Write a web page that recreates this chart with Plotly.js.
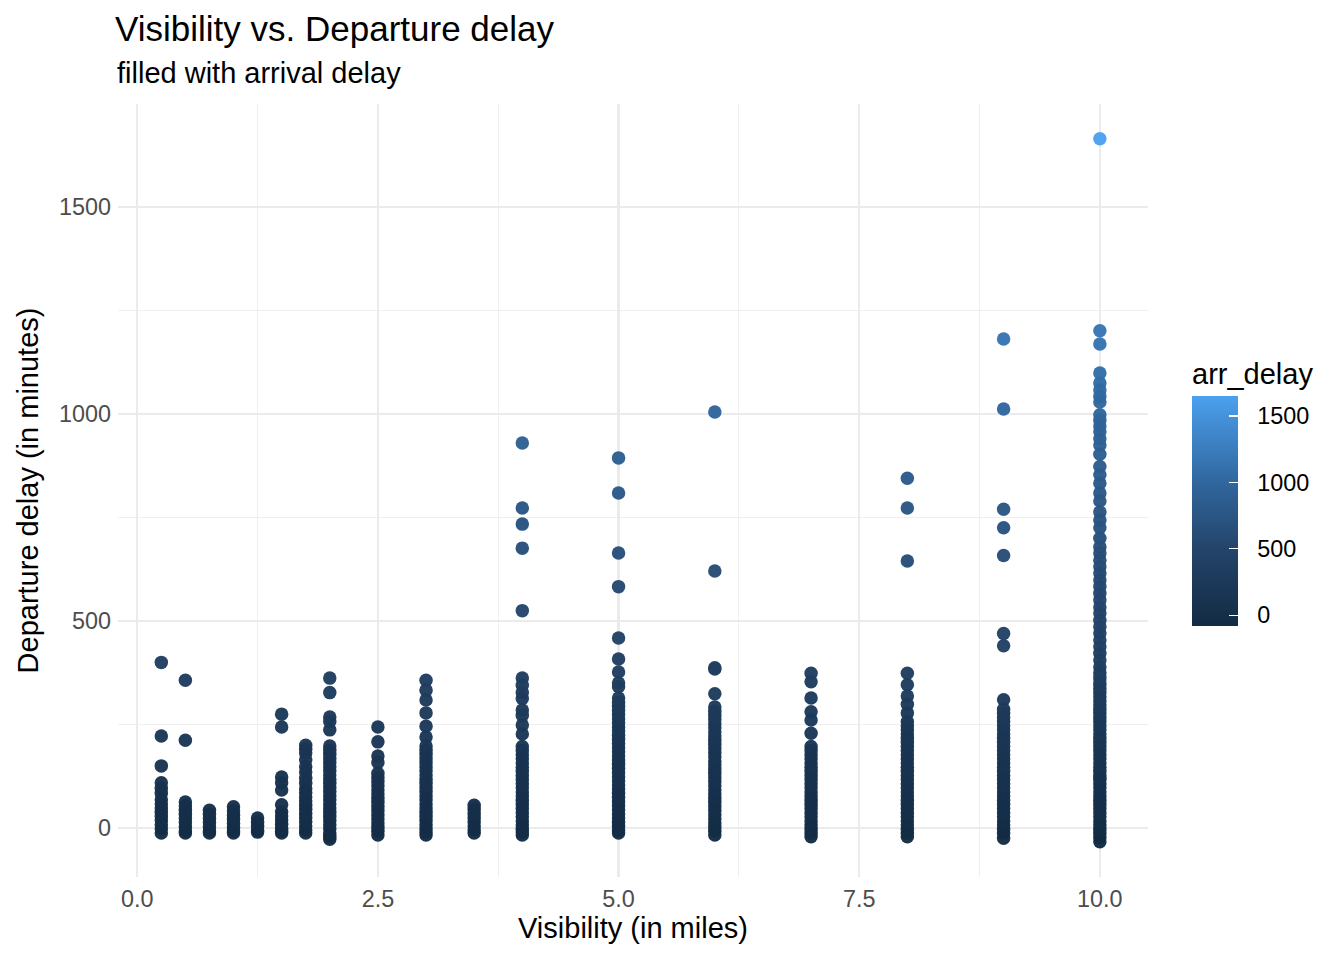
<!DOCTYPE html>
<html>
<head>
<meta charset="utf-8">
<script src="https://cdn.plot.ly/plotly-3.0.1.min.js"></script>
<style>html,body{margin:0;padding:0;background:#fff;}#chart{width:1344px;height:960px;}</style>
</head>
<body>
<div id="chart"></div>
<script>
// Visibility (miles) categories
const visibility = [0.25, 0.5, 0.75, 1, 1.25, 1.5, 1.75, 2, 2.5, 3, 3.5, 4, 5, 6, 7, 8, 9, 10];

// Departure delay (minutes) per visibility column, and matching arrival delay
const dep_v025 = [400, 222, 150, 109, 96, 84, 68, 58, 48, 38, 28, 18, 8, -2, -12];
const arr_v025 = [385, 210, 138, 95, 85, 70, 55, 45, 35, 25, 15, 5, -5, -15, -30];
const dep_v050 = [357, 212, 63, 53, 43, 33, 23, 13, 3, -7, -12];
const arr_v050 = [345, 200, 50, 40, 30, 20, 10, 0, -10, -20, -30];
const dep_v075 = [43, 33, 23, 13, 3, -7, -12];
const arr_v075 = [30, 20, 10, 0, -10, -20, -30];
const dep_v100 = [51, 41, 31, 21, 11, 1, -7, -12];
const arr_v100 = [40, 30, 20, 10, 0, -10, -20, -30];
const dep_v125 = [24, 14, 4, -6, -10];
const arr_v125 = [12, 2, -8, -18, -28];
const dep_v150 = [275, 244, 123, 109, 92, 56, 39, 29, 19, 9, -1, -8, -12];
const arr_v150 = [262, 230, 110, 96, 80, 44, 26, 16, 6, -4, -14, -22, -30];
const dep_v175 = [200, 190, 181, 165, 148, 135, 120, 108, 95, 85, 75, 65, 55, 45, 35, 25, 15, 5, -5, -12];
const arr_v175 = [188, 178, 168, 152, 136, 122, 108, 96, 82, 72, 62, 52, 42, 32, 22, 12, 2, -8, -18, -30];
const dep_v200 = [362, 327, 268, 257, 237, 198, 188, 178, 168, 158, 148, 138, 128, 118, 108, 98, 88, 78, 68, 58, 48, 38, 28, 18, 8, -2, -12, -20, -27];
const arr_v200 = [350, 315, 255, 245, 225, 185, 175, 165, 155, 145, 135, 125, 115, 105, 95, 85, 75, 65, 55, 45, 35, 25, 15, 5, -5, -15, -25, -35, -45];
const dep_v250 = [244, 208, 174, 158, 132, 122, 112, 102, 92, 82, 72, 62, 52, 42, 32, 22, 12, 2, -8, -17];
const arr_v250 = [232, 195, 162, 146, 120, 110, 100, 90, 80, 70, 60, 50, 40, 30, 20, 10, 0, -10, -20, -35];
const dep_v300 = [357, 333, 309, 278, 246, 220, 198, 188, 178, 168, 158, 148, 138, 128, 118, 108, 98, 88, 78, 68, 58, 48, 38, 28, 18, 8, -2, -10, -17];
const arr_v300 = [345, 320, 296, 265, 234, 208, 186, 175, 165, 155, 145, 135, 125, 115, 105, 95, 85, 75, 65, 55, 45, 35, 25, 15, 5, -5, -15, -25, -35];
const dep_v350 = [55, 45, 35, 25, 15, 5, -5, -12];
const arr_v350 = [42, 32, 22, 12, 2, -8, -18, -30];
const dep_v400 = [930, 773, 734, 676, 525, 362, 345, 327, 313, 285, 272, 249, 227, 197, 187, 177, 167, 157, 147, 137, 127, 117, 107, 97, 87, 77, 67, 57, 47, 37, 27, 17, 7, -3, -10, -17];
const arr_v400 = [915, 760, 720, 662, 512, 350, 332, 315, 300, 272, 260, 236, 215, 185, 175, 165, 155, 145, 135, 125, 115, 105, 95, 85, 75, 65, 55, 45, 35, 25, 15, 5, -5, -15, -25, -40];
const dep_v500 = [894, 809, 664, 583, 459, 408, 377, 350, 341, 314, 304, 294, 284, 274, 264, 254, 244, 234, 224, 214, 204, 194, 184, 174, 164, 154, 144, 134, 124, 114, 104, 94, 84, 74, 64, 54, 44, 34, 24, 14, 4, -6, -12];
const arr_v500 = [880, 795, 650, 570, 445, 395, 364, 337, 328, 301, 291, 281, 271, 261, 251, 241, 231, 221, 211, 201, 191, 181, 171, 161, 151, 141, 131, 121, 111, 101, 91, 81, 71, 61, 51, 41, 31, 21, 11, 1, -9, -20, -40];
const dep_v600 = [1005, 621, 387, 384, 324, 292, 282, 272, 262, 252, 242, 232, 222, 212, 202, 192, 182, 172, 162, 152, 142, 132, 122, 112, 102, 92, 82, 72, 62, 52, 42, 32, 22, 12, 2, -8, -17];
const arr_v600 = [990, 608, 374, 370, 310, 280, 270, 260, 250, 240, 230, 220, 210, 200, 190, 180, 170, 160, 150, 140, 130, 120, 110, 100, 90, 80, 70, 60, 50, 40, 30, 20, 10, 0, -10, -22, -45];
const dep_v700 = [374, 353, 314, 281, 261, 229, 197, 187, 177, 167, 157, 147, 137, 127, 117, 107, 97, 87, 77, 67, 57, 47, 37, 27, 17, 7, -3, -13, -21];
const arr_v700 = [360, 340, 300, 268, 248, 216, 185, 175, 165, 155, 145, 135, 125, 115, 105, 95, 85, 75, 65, 55, 45, 35, 25, 15, 5, -5, -15, -28, -45];
const dep_v800 = [845, 773, 645, 374, 346, 319, 299, 278, 257, 247, 237, 227, 217, 207, 197, 187, 177, 167, 157, 147, 137, 127, 117, 107, 97, 87, 77, 67, 57, 47, 37, 27, 17, 7, -3, -13, -21];
const arr_v800 = [830, 760, 632, 360, 333, 306, 286, 265, 245, 235, 225, 215, 205, 195, 185, 175, 165, 155, 145, 135, 125, 115, 105, 95, 85, 75, 65, 55, 45, 35, 25, 15, 5, -5, -15, -28, -45];
const dep_v900 = [1181, 1012, 770, 725, 658, 470, 440, 310, 287, 277, 267, 257, 247, 237, 227, 217, 207, 197, 187, 177, 167, 157, 147, 137, 127, 117, 107, 97, 87, 77, 67, 57, 47, 37, 27, 17, 7, -3, -13, -25];
const arr_v900 = [1165, 998, 756, 712, 645, 456, 427, 297, 275, 265, 255, 245, 235, 225, 215, 205, 195, 185, 175, 165, 155, 145, 135, 125, 115, 105, 95, 85, 75, 65, 55, 45, 35, 25, 15, 5, -5, -15, -30, -50];
const dep_v1000 = [1665, 1201, 1169, 1099, 1075, 1058, 1042, 1029, 998, 985, 971, 957, 940, 925, 903, 873, 853, 833, 809, 790, 763, 744, 725, 700, 679, 664, 647, 631, 616, 599, 583, 567, 551, 534, 519, 502, 486, 471, 454, 438, 422, 406, 389, 375, 365, 347, 337, 327, 317, 307, 297, 287, 277, 267, 257, 247, 237, 227, 217, 207, 197, 187, 177, 167, 157, 147, 137, 127, 117, 107, 97, 87, 77, 67, 57, 47, 37, 27, 17, 7, -3, -13, -23, -33];
const arr_v1000 = [1650, 1185, 1152, 1082, 1060, 1042, 1026, 1012, 982, 968, 955, 940, 924, 908, 887, 857, 837, 817, 794, 774, 748, 729, 710, 685, 664, 649, 632, 616, 601, 584, 568, 552, 536, 519, 504, 487, 471, 456, 439, 423, 407, 391, 374, 360, 350, 332, 322, 312, 302, 292, 282, 272, 262, 252, 242, 232, 222, 212, 202, 192, 182, 172, 162, 152, 142, 132, 122, 112, 102, 92, 82, 72, 62, 52, 42, 32, 22, 12, 2, -8, -20, -35, -55, -80];

// Flights with missing arrival delay (drawn grey)
const na_vis = [10, 10];
const na_dep = [357, 120];

// Tick values
const arrTicks = [0, 500, 1000, 1500];
const xTicks = [0, 2.5, 5, 7.5, 10];
const yTicks = [0, 500, 1000, 1500];

const depCols = [dep_v025, dep_v050, dep_v075, dep_v100, dep_v125, dep_v150, dep_v175, dep_v200, dep_v250, dep_v300, dep_v350, dep_v400, dep_v500, dep_v600, dep_v700, dep_v800, dep_v900, dep_v1000];
const arrCols = [arr_v025, arr_v050, arr_v075, arr_v100, arr_v125, arr_v150, arr_v175, arr_v200, arr_v250, arr_v300, arr_v350, arr_v400, arr_v500, arr_v600, arr_v700, arr_v800, arr_v900, arr_v1000];

const xs = [], ys = [], cs = [];
visibility.forEach((v, i) => {
  depCols[i].forEach((d, j) => { xs.push(v); ys.push(d); cs.push(arrCols[i][j]); });
});

const FONT = "Liberation Sans, Arial, Helvetica, sans-serif";
const CMIN = -82, CMAX = 1650;
const SCALE = [[0, '#132B43'], [0.336, '#24446A'], [0.625, '#30679E'], [0.913, '#4592DA'], [1, '#4CA1F0']];

const PANEL_L = 118, PANEL_W = 1030, PANEL_B = 877, PANEL_H = 773;
const barX = (1192 - PANEL_L) / PANEL_W;

const traceNA = {
  type: 'scatter', mode: 'markers', x: na_vis, y: na_dep,
  marker: {size: 13.5, color: '#7F7F7F', opacity: 1, line: {width: 0}},
  showlegend: false, hoverinfo: 'skip'
};

const trace = {
  type: 'scatter', mode: 'markers', x: xs, y: ys,
  marker: {
    size: 13.5, opacity: 0.97, line: {width: 0},
    color: cs, cmin: CMIN, cmax: CMAX, colorscale: SCALE,
    showscale: true,
    colorbar: {
      x: barX, xanchor: 'left', xref: 'paper',
      y: (PANEL_B - 492.5) / PANEL_H, yanchor: 'middle', yref: 'paper',
      len: 267, lenmode: 'pixels', thickness: 46, thicknessmode: 'pixels',
      outlinewidth: 0, xpad: 0, ypad: 0,
      tickvals: arrTicks, ticks: 'outside', ticklen: 15, tickwidth: 1, tickcolor: 'rgba(0,0,0,0)',
      tickfont: {family: FONT, size: 23.4, color: '#000000'},
      title: {text: 'arr_delay', side: 'top', font: {family: FONT, size: 29, color: '#000000'}}
    }
  },
  showlegend: false, hoverinfo: 'skip'
};

// second colour bar, same geometry, carrying the white inner tick marks
const traceTicks = {
  type: 'scatter', mode: 'markers', x: [null], y: [null],
  marker: {
    size: 1, color: [0], cmin: CMIN, cmax: CMAX, colorscale: SCALE, showscale: true,
    colorbar: {
      x: barX, xanchor: 'left', xref: 'paper',
      y: (PANEL_B - 511) / PANEL_H, yanchor: 'middle', yref: 'paper',
      len: 230, lenmode: 'pixels', thickness: 46, thicknessmode: 'pixels',
      outlinewidth: 0, xpad: 0, ypad: 0,
      tickvals: arrTicks, ticks: 'inside', ticklen: 9, tickwidth: 1.2, tickcolor: '#FFFFFF',
      showticklabels: false, title: {text: ''}
    }
  },
  showlegend: false, hoverinfo: 'skip'
};

const layout = {
  width: 1344, height: 960,
  paper_bgcolor: '#FFFFFF', plot_bgcolor: '#FFFFFF',
  margin: {l: PANEL_L, r: 1344 - PANEL_L - PANEL_W, t: 960 - PANEL_B - 0 - (960 - PANEL_B) + (PANEL_B - PANEL_H), b: 960 - PANEL_B, pad: 0},
  font: {family: FONT, color: '#000000'},
  title: {
    text: 'Visibility vs. Departure delay',
    font: {family: FONT, size: 35, color: '#000000'},
    xref: 'container', x: 115 / 1344, xanchor: 'left',
    yref: 'container', y: 1 - 29 / 960, yanchor: 'middle'
  },
  annotations: [{
    text: 'filled with arrival delay', showarrow: false,
    xref: 'paper', x: (115 - PANEL_L) / PANEL_W, xanchor: 'left',
    yref: 'paper', y: (PANEL_B - 73) / PANEL_H, yanchor: 'middle',
    font: {family: FONT, size: 29, color: '#000000'}
  }],
  xaxis: {
    range: [-0.2, 10.5], tickvals: xTicks, tickformat: '.1f',
    showgrid: true, gridcolor: '#EBEBEB', gridwidth: 2.2, zeroline: false, showline: false,
    ticks: '', ticklabelstandoff: 6,
    tickfont: {family: FONT, size: 23.4, color: '#4D4D4D'},
    minor: {tick0: 0, dtick: 1.25, showgrid: true, gridcolor: '#EFEFEF', gridwidth: 1.1, ticks: ''},
    title: {text: 'Visibility (in miles)', font: {family: FONT, size: 29, color: '#000000'}, standoff: 6}
  },
  yaxis: {
    range: [-118.4, 1748.8], tickvals: yTicks,
    showgrid: true, gridcolor: '#EBEBEB', gridwidth: 2.2, zeroline: false, showline: false,
    ticks: '', ticklabelstandoff: 6,
    tickfont: {family: FONT, size: 23.4, color: '#4D4D4D'},
    minor: {tick0: 0, dtick: 250, showgrid: true, gridcolor: '#EFEFEF', gridwidth: 1.1, ticks: ''},
    title: {text: 'Departure delay (in minutes)', font: {family: FONT, size: 29, color: '#000000'}, standoff: 11}
  }
};

Plotly.newPlot('chart', [traceNA, trace, traceTicks], layout, {staticPlot: true, displayModeBar: false});
</script>
</body>
</html>
